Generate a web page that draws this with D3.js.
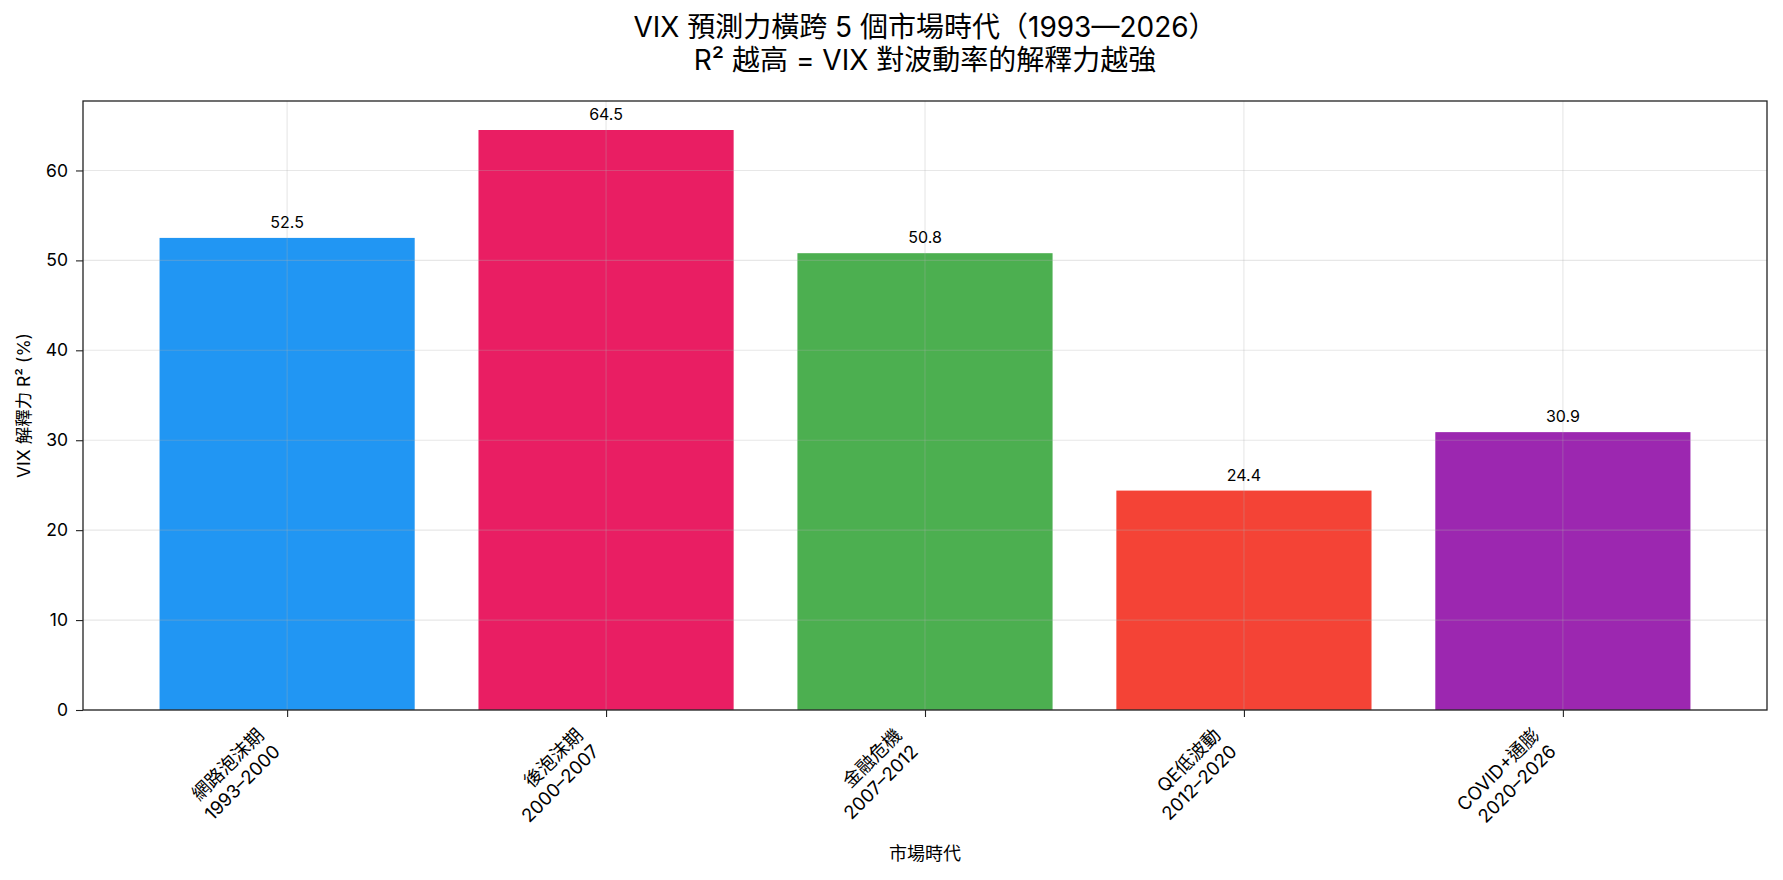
<!DOCTYPE html>
<html>
<head>
<meta charset="utf-8">
<script src="https://cdn.jsdelivr.net/npm/d3@7"></script>
<style>
  body { margin: 0; background: #fff; }
  svg text { font-family: Inter, "Noto Sans CJK TC", sans-serif; fill: #000; }
</style>
</head>
<body>
<div id="chart"></div>
<script>
/******************************************************************************/
/*  Data                                                                      */
/******************************************************************************/

var eras    = ['網路泡沫期', '後泡沫期', '金融危機', 'QE低波動', 'COVID+通膨'],
    periods = ['1993–2000', '2000–2007', '2007–2012', '2012–2020', '2020–2026'],
    r2      = [52.5, 64.5, 50.8, 24.4, 30.9],
    colors  = ['#2196F3', '#E91E63', '#4CAF50', '#F44336', '#9C27B0'],
    yTicks  = [0, 10, 20, 30, 40, 50, 60];

var titleLines = ['VIX 預測力橫跨 5 個市場時代（1993—2026）', 'R² 越高 = VIX 對波動率的解釋力越強'];


/******************************************************************************/
/*  Chart                                                                     */
/******************************************************************************/

var W = 1783, H = 880,
    box = { left: 83, right: 1767, top: 101, bottom: 710 };

var svg = d3.select('#chart')
  .append('svg')
    .attr('width',  W)
    .attr('height', H)

// matplotlib style margins: 5% of the data span on each side
var x = d3.scaleLinear()
    .domain([-0.4 - 0.24, eras.length - 1 + 0.4 + 0.24])
    .range([box.left, box.right])

var y = d3.scaleLinear()
    .domain([0, d3.max(r2) * 1.05])
    .range([box.bottom, box.top])

var barW = x(0.8) - x(0);

// Bars
svg.append('g').selectAll('rect').data(r2)
  .enter().append('rect')
    .attr('x', function(d, i){ return x(i) - barW / 2; })
    .attr('y', function(d){ return y(d); })
    .attr('width', barW)
    .attr('height', function(d){ return y(0) - y(d); })
    .attr('fill', function(d, i){ return colors[i]; })

// Grid on top of bars, faint
var grid = svg.append('g')
    .attr('stroke', '#b0b0b0')
    .attr('stroke-opacity', 0.3)
    .attr('stroke-width', 1.1)

grid.selectAll('.gy').data(yTicks)
  .enter().append('line')
    .attr('x1', box.left).attr('x2', box.right)
    .attr('y1', function(d){ return y(d); })
    .attr('y2', function(d){ return y(d); })

grid.selectAll('.gx').data(eras)
  .enter().append('line')
    .attr('y1', box.top).attr('y2', box.bottom)
    .attr('x1', function(d, i){ return x(i); })
    .attr('x2', function(d, i){ return x(i); })

// Value labels
svg.append('g').selectAll('text').data(r2)
  .enter().append('text')
    .attr('x', function(d, i){ return x(i); })
    .attr('y', function(d){ return y(d) - 10; })
    .attr('text-anchor', 'middle')
    .style('font-size', '16px')
    .text(function(d){ return d.toFixed(1); })

// Y axis
var yAxis = svg.append('g')
    .attr('transform', 'translate(' + box.left + ',0)')
    .call(d3.axisLeft(y).tickValues(yTicks).tickSize(7).tickPadding(8).tickFormat(d3.format('d')))

yAxis.select('.domain').remove();
yAxis.selectAll('.tick line').attr('stroke', '#222').attr('stroke-width', 1.1);
yAxis.selectAll('.tick text')
    .style('font-size', '17.5px')
    .attr('fill', '#000')

// X axis ticks (labels drawn by hand, two lines rotated)
var xAxis = svg.append('g')
    .attr('transform', 'translate(0,' + box.bottom + ')')
    .call(d3.axisBottom(x).tickValues(d3.range(eras.length)).tickSize(7).tickFormat(''))

xAxis.select('.domain').remove();
xAxis.selectAll('.tick line').attr('stroke', '#222').attr('stroke-width', 1.1);

var fs = 18.5, lh = 23, blockH = 2 * lh, desc = 4;

var xl = svg.append('g').selectAll('g').data(eras)
  .enter().append('g')
    .attr('transform', function(d, i){
      return 'translate(' + (x(i) - 3) + ',' + (box.bottom + 7 + 6 + 0.707 * blockH) + ') rotate(-45)';
    })

xl.append('text')
    .attr('text-anchor', 'end')
    .attr('y', -desc - lh)
    .style('font-size', fs + 'px')
    .text(function(d){ return d; })

xl.append('text')
    .attr('text-anchor', 'end')
    .attr('y', -desc)
    .style('font-size', fs + 'px')
    .text(function(d, i){ return periods[i]; })

// Frame
svg.append('rect')
    .attr('x', box.left).attr('y', box.top)
    .attr('width', box.right - box.left)
    .attr('height', box.bottom - box.top)
    .attr('fill', 'none')
    .attr('stroke', '#222')
    .attr('stroke-width', 1.3)

// Axis titles
svg.append('text')
    .attr('x', (box.left + box.right) / 2)
    .attr('y', 860)
    .attr('text-anchor', 'middle')
    .style('font-size', '18px')
    .text('市場時代')

svg.append('text')
    .attr('transform', 'translate(30,' + (box.top + box.bottom) / 2 + ') rotate(-90)')
    .attr('text-anchor', 'middle')
    .style('font-size', '17.5px')
    .text('VIX 解釋力 R² (%)')

// Title
svg.append('g').selectAll('text').data(titleLines)
  .enter().append('text')
    .attr('x', (box.left + box.right) / 2)
    .attr('y', function(d, i){ return 37 + i * 33; })
    .attr('text-anchor', 'middle')
    .style('font-size', '28px')
    .text(function(d){ return d; })
</script>
</body>
</html>
